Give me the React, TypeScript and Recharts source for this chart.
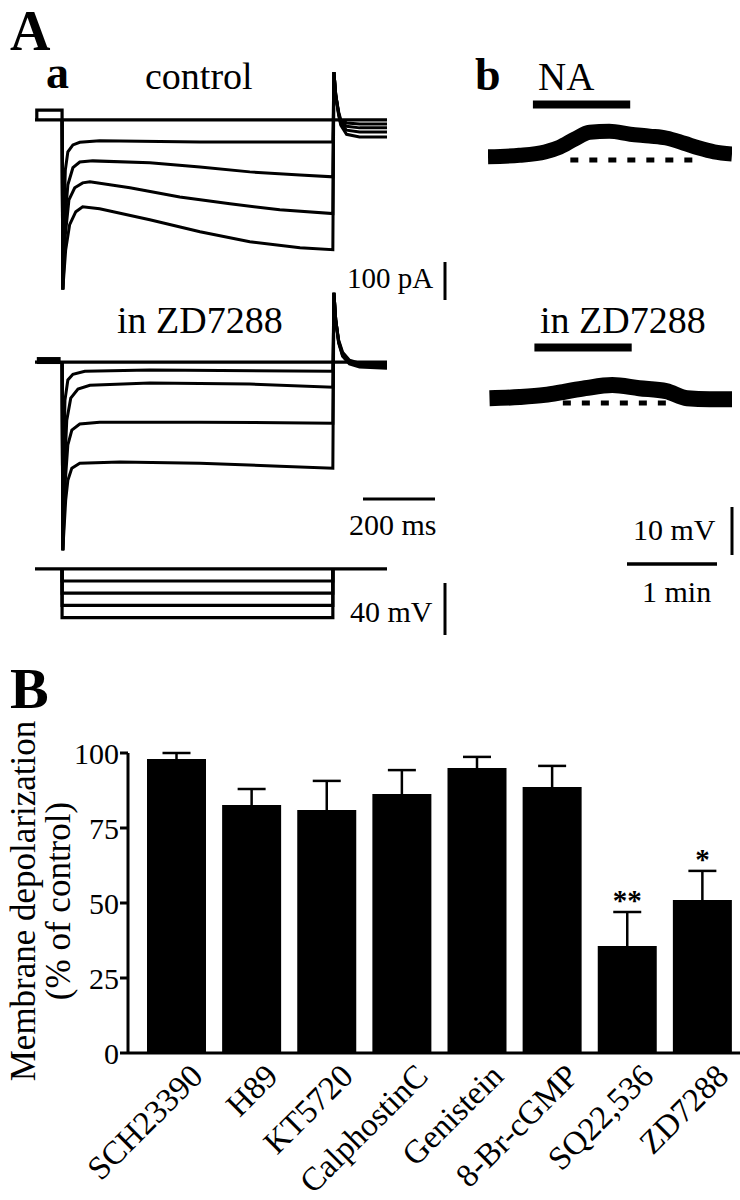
import React from "react";
import {
  BarChart, Bar, XAxis, YAxis, ErrorBar, LabelList, Label,
  LineChart, Line,
} from "recharts";

const FONT = "'Liberation Serif', 'DejaVu Serif', serif";

// ---- panel B: bar chart ----
const drugs = ["SCH23390", "H89", "KT5720", "CalphostinC", "Genistein", "8-Br-cGMP", "SQ22,536", "ZD7288"];
const depolarization = [98, 82.7, 81, 86.3, 95, 88.7, 35.7, 51];
const sem = [2, 5.3, 9.7, 8, 3.7, 7, 11.3, 9.7];
const significance = ["", "", "", "", "", "", "**", "*"];
const yTicks = [0, 25, 50, 75, 100];

// ---- panel A a: currents [t (ms), I (pA)] ----
const ctrlHold = [[-75, 0], [900, 0]];
const ctrlPulse = [[-70, 0], [-70, 26], [0, 26], [0, 0]];
const ctrl1 = [[0, 0], [2, -447], [5, -263], [9, -132], [16, -84], [30, -66], [49, -59], [104, -55], [382, -58], [750, -58], [753, 126], [758, 66], [766, 21], [772, 0], [788, -8], [824, -11], [900, -11]];
const ctrl2 = [[0, 0], [2, -447], [8, -263], [16, -171], [30, -126], [49, -111], [85, -108], [243, -113], [382, -124], [520, -137], [659, -145], [750, -150], [753, 126], [758, 66], [766, 18], [772, -5], [788, -17], [824, -21], [900, -21]];
const ctrl3 = [[0, 0], [2, -447], [9, -303], [19, -211], [35, -179], [57, -166], [77, -163], [188, -179], [326, -203], [465, -221], [603, -237], [750, -247], [753, 126], [758, 66], [766, 16], [772, -10], [788, -27], [824, -32], [900, -32]];
const ctrl4 = [[0, 0], [2, -447], [10, -342], [21, -276], [38, -242], [57, -229], [104, -234], [243, -263], [382, -295], [520, -321], [659, -337], [750, -342], [753, 126], [758, 66], [766, 13], [772, -14], [788, -38], [824, -45], [900, -45]];

const zdHold = [[-75, 0], [900, 0]];
const zdPulse = [[-70, 4], [-4, 4]];
const zd1 = [[0, 0], [2, -495], [5, -232], [8, -100], [16, -47], [30, -32], [63, -24], [243, -21], [750, -24], [753, 182], [758, 111], [766, 58], [777, 26], [796, 5], [824, -3], [900, -4]];
const zd2 = [[0, 0], [2, -495], [8, -258], [13, -153], [24, -95], [44, -71], [77, -61], [243, -55], [520, -58], [750, -66], [753, 182], [758, 111], [766, 55], [777, 22], [796, 2], [824, -6], [900, -8]];
const zd3 = [[0, 0], [2, -495], [9, -311], [16, -218], [27, -179], [49, -163], [104, -158], [382, -158], [750, -161], [753, 182], [758, 111], [766, 52], [777, 18], [796, -2], [824, -10], [900, -12]];
const zd4 = [[0, 0], [2, -495], [10, -363], [16, -311], [27, -279], [49, -266], [160, -263], [382, -266], [603, -274], [750, -279], [753, 182], [758, 111], [766, 50], [777, 15], [796, -5], [824, -13], [900, -16]];

// voltage protocol [t (ms), mV]
const vHold = [[-75, -60], [900, -60]];
const vSteps = [-70, -80, -90, -100];

// ---- panel A b: membrane potential [t (s), mV above rest] ----
const naTrace = [[0, 0.7], [21, 1.0], [38, 1.7], [48, 2.7], [58, 4.4], [68, 5.8], [81, 6.0], [95, 5.4], [108, 5.0], [119, 4.6], [131, 3.5], [141, 2.5], [151, 1.7], [163, 1.25]];
const naRest = [[55, 0], [137, 0]];
const naApplied = [[30, 11.6], [95, 11.6]];
const zdTrace = [[1, 1.0], [21, 1.25], [38, 1.7], [50, 2.3], [65, 3.1], [83, 3.75], [101, 3.1], [119, 2.5], [133, 1.0], [148, 0.8], [163, 0.8]];
const zdRest = [[50, 0], [119, 0]];
const zdApplied = [[31, 11.6], [96, 11.6]];

const pts = (arr: number[][]) => arr.map(([t, v]) => ({ t, v }));

type TraceDef = { data: number[][]; w: number; dash?: string; curve?: any };

const TraceChart = ({ left, top, width, height, xDomain, yDomain, traces }: any) => (
  <div style={{ position: "absolute", left, top, width, height }}>
    <LineChart width={width} height={height} margin={{ top: 0, right: 0, bottom: 0, left: 0 }}>
      <XAxis dataKey="t" type="number" domain={xDomain} allowDataOverflow hide />
      <YAxis type="number" domain={yDomain} allowDataOverflow hide />
      {traces.map((tr: TraceDef, i: number) => (
        <Line
          key={i}
          data={pts(tr.data)}
          dataKey="v"
          type={tr.curve || "linear"}
          stroke="#000"
          strokeWidth={tr.w}
          strokeDasharray={tr.dash}
          dot={false}
          activeDot={false}
          isAnimationActive={false}
        />
      ))}
    </LineChart>
  </div>
);

const XTick = ({ x, y, payload }: any) => (
  <g transform={`translate(${x + 28},${y + 25})`}>
    <text transform="rotate(-45)" textAnchor="end" fontSize={33} fontFamily={FONT} fill="#000">
      {payload.value}
    </text>
  </g>
);

const YLabel = ({ viewBox }: any) => {
  const { x, y, height } = viewBox;
  const cy = y + height / 2 - 2;
  return (
    <g fontFamily={FONT} fontSize={35} fill="#000">
      <text x={x + 35} y={cy} transform={`rotate(-90 ${x + 35} ${cy})`} textAnchor="middle">
        Membrane depolarization
      </text>
      <text x={x + 70} y={cy} transform={`rotate(-90 ${x + 70} ${cy})`} textAnchor="middle">
        (% of control)
      </text>
    </g>
  );
};

const Stars = ({ x, y, width, height, index }: any) => {
  const mark = significance[index];
  if (!mark) return null;
  const perUnit = height / depolarization[index];
  const errTop = y - sem[index] * perUnit;
  return (
    <text x={x + width / 2} y={errTop - 2} textAnchor="middle" fontSize={29} fontWeight="bold" fontFamily={FONT} fill="#000">
      {mark}
    </text>
  );
};

const barData = drugs.map((name, i) => ({ name, value: depolarization[i], err: sem[i], sig: significance[i] }));

const aX = [-75, 900];
const TW = 3;

export default function App() {
  return (
    <div style={{ position: "absolute", left: 0, top: 0, width: 740, height: 1200, background: "#fff", overflow: "hidden" }}>
      {/* a: control currents */}
      <TraceChart
        left={35} top={63} width={352} height={239} xDomain={aX} yDomain={[-480, 150]}
        traces={[
          { data: ctrlHold, w: 3.2 }, { data: ctrlPulse, w: 3.2 },
          { data: ctrl1, w: TW }, { data: ctrl2, w: TW }, { data: ctrl3, w: TW }, { data: ctrl4, w: TW },
        ]}
      />
      {/* a: currents in ZD7288 */}
      <TraceChart
        left={35} top={286} width={352} height={270} xDomain={aX} yDomain={[-510, 200]}
        traces={[
          { data: zdHold, w: 3.2 }, { data: zdPulse, w: 7 },
          { data: zd1, w: TW }, { data: zd2, w: TW }, { data: zd3, w: TW }, { data: zd4, w: TW },
        ]}
      />
      {/* a: voltage protocol */}
      <TraceChart
        left={35} top={559} width={352} height={66} xDomain={aX} yDomain={[-106, -52]}
        traces={[
          { data: vHold, w: 3.2 },
          ...vSteps.map((v) => ({ data: [[0, -60], [0, v], [750, v], [750, -60]], w: 3.2 })),
        ]}
      />
      {/* b: NA */}
      <TraceChart
        left={488} top={93} width={244} height={91} xDomain={[0, 163]} yDomain={[-5, 14]}
        traces={[
          { data: naTrace, w: 15, curve: "monotone" },
          { data: naRest, w: 5, dash: "8 11" },
          { data: naApplied, w: 8 },
        ]}
      />
      {/* b: NA in ZD7288 */}
      <TraceChart
        left={488} top={336} width={244} height={91} xDomain={[0, 163]} yDomain={[-5, 14]}
        traces={[
          { data: zdTrace, w: 16, curve: "monotone" },
          { data: zdRest, w: 5, dash: "8 11" },
          { data: zdApplied, w: 8 },
        ]}
      />

      {/* B: bar chart */}
      <div style={{ position: "absolute", left: 0, top: 700, width: 740, height: 500 }}>
        <BarChart width={740} height={500} data={barData} margin={{ top: 53, right: 0, bottom: 0, left: 0 }} barSize={59}>
          <XAxis
            dataKey="name"
            interval={0}
            height={147}
            tick={<XTick />}
            tickLine={false}
            tickSize={0}
            tickMargin={0}
            padding={{ left: 11, right: 0 }}
            axisLine={{ stroke: "#000", strokeWidth: 3 }}
          />
          <YAxis
            width={128}
            domain={[0, 100]}
            ticks={yTicks}
            interval={0}
            tickSize={8}
            tickMargin={1}
            axisLine={{ stroke: "#000", strokeWidth: 3 }}
            tickLine={{ stroke: "#000", strokeWidth: 3 }}
            tick={{ fontSize: 30, fontFamily: FONT, fill: "#000" }}
          >
            <Label content={<YLabel />} />
          </YAxis>
          <Bar dataKey="value" fill="#000" isAnimationActive={false}>
            <ErrorBar dataKey="err" direction="y" width={14} stroke="#000" strokeWidth={2.5} />
            <LabelList dataKey="sig" content={<Stars />} />
          </Bar>
        </BarChart>
      </div>

      {/* panel letters, labels and scale bars */}
      <svg width={740} height={1200} style={{ position: "absolute", left: 0, top: 0, pointerEvents: "none" }} fontFamily={FONT}>
        <text x={10} y={50} fontSize={56} fontWeight="bold">A</text>
        <text x={46} y={88} fontSize={46} fontWeight="bold">a</text>
        <text x={145} y={89} fontSize={38}>control</text>
        <text x={347} y={288} fontSize={29}>100 pA</text>
        <line x1={445} y1={262} x2={445} y2={300} stroke="#000" strokeWidth={3} />
        <text x={117} y={333} fontSize={38}>in ZD7288</text>
        <line x1={363} y1={499} x2={435} y2={499} stroke="#000" strokeWidth={3} />
        <text x={349} y={535} fontSize={30}>200 ms</text>
        <text x={350} y={622} fontSize={30}>40 mV</text>
        <line x1={445} y1={583} x2={445} y2={635} stroke="#000" strokeWidth={3} />

        <text x={475} y={90} fontSize={46} fontWeight="bold">b</text>
        <text x={538} y={90} fontSize={39}>NA</text>
        <text x={540} y={333} fontSize={38}>in ZD7288</text>
        <text x={633} y={540} fontSize={30}>10 mV</text>
        <line x1={732} y1={507} x2={732} y2={555} stroke="#000" strokeWidth={3} />
        <line x1={627} y1={564} x2={717} y2={564} stroke="#000" strokeWidth={3.5} />
        <text x={642} y={602} fontSize={30}>1 min</text>

        <text x={10} y={708} fontSize={58} fontWeight="bold">B</text>
      </svg>
    </div>
  );
}
